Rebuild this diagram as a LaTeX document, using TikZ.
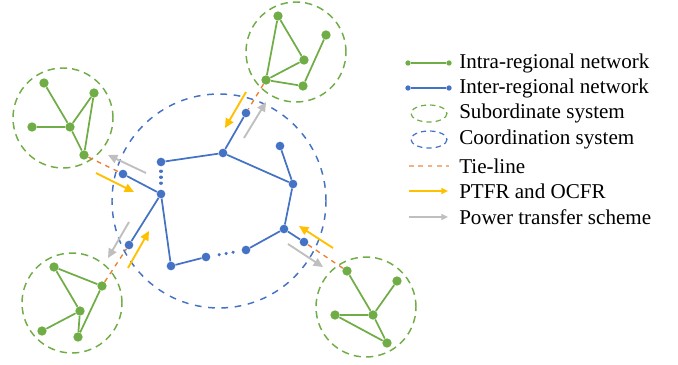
\documentclass[tikz,border=0pt]{standalone}
\usepackage{fontspec}
\setmainfont{Liberation Serif}
\usepackage{xcolor}
\usetikzlibrary{arrows.meta,positioning,calc}

\definecolor{subgreen}{HTML}{70AD47}
\definecolor{coordblue}{HTML}{4472C4}
\definecolor{tieorange}{HTML}{ED7D31}
\definecolor{flowyellow}{HTML}{FFC000}
\definecolor{schemegray}{HTML}{BFBFBF}

\begin{document}
\begin{tikzpicture}[x=0.75pt, y=-0.75pt,
    gnode/.style={circle, fill=subgreen, inner sep=0pt, minimum size=7pt},
    bnode/.style={circle, fill=coordblue, inner sep=0pt, minimum size=6.5pt},
    gline/.style={draw=subgreen, line width=1.3pt},
    bline/.style={draw=coordblue, line width=1.3pt},
    bdots/.style={draw=coordblue, line width=2.4pt, line cap=round},
    tie/.style={draw=tieorange, line width=1pt, dash pattern=on 3.5pt off 3.5pt},
    subsys/.style={circle, draw=subgreen, line width=1.1pt, dash pattern=on 5.5pt off 3.8pt, inner sep=0pt, minimum size=75pt},
    coordsys/.style={circle, draw=coordblue, line width=1.1pt, dash pattern=on 5pt off 5pt, inner sep=0pt, minimum size=160.5pt},
    ptfr/.style={draw=flowyellow, line width=1.4pt, -{Triangle[length=7pt,width=6.5pt]}},
    scheme/.style={draw=schemegray, line width=1.4pt, -{Triangle[length=7pt,width=6.5pt]}},
    legtext/.style={anchor=west, inner sep=0pt, font=\fontsize{15.8}{18}\selectfont}
]
    \useasboundingbox (0,0) rectangle (678,364);

    % Coordination system and subordinate systems
    \node[coordsys] (coord) at (219,201) {};
    \node[subsys] (sub1) at (63,118) {};
    \node[subsys] (sub2) at (296,52) {};
    \node[subsys] (sub3) at (72,303) {};
    \node[subsys] (sub4) at (366,307) {};

    % Subordinate system 1
    \node[gnode] (s1a) at (44,83) {};
    \node[gnode] (s1b) at (94,93) {};
    \node[gnode] (s1c) at (32,127) {};
    \node[gnode] (s1d) at (70,127) {};
    \node[gnode] (s1e) at (84,155) {};
    \draw[gline] (s1a) -- (s1d) (s1b) -- (s1d) (s1c) -- (s1d) (s1d) -- (s1e) (s1b) -- (s1e);

    % Subordinate system 2
    \node[gnode] (s2a) at (278,16) {};
    \node[gnode] (s2b) at (326,35) {};
    \node[gnode] (s2c) at (304,60) {};
    \node[gnode] (s2d) at (266,80) {};
    \node[gnode] (s2e) at (303,86) {};
    \draw[gline] (s2a) -- (s2c) (s2a) -- (s2d) (s2d) -- (s2c) (s2d) -- (s2e) (s2e) -- (s2b);

    % Subordinate system 3
    \node[gnode] (s3a) at (54,267) {};
    \node[gnode] (s3b) at (102,286) {};
    \node[gnode] (s3c) at (80,311) {};
    \node[gnode] (s3d) at (42,331) {};
    \node[gnode] (s3e) at (78,337) {};
    \draw[gline] (s3a) -- (s3b) (s3a) -- (s3c) (s3d) -- (s3c) (s3c) -- (s3e) (s3b) -- (s3e);

    % Subordinate system 4
    \node[gnode] (s4a) at (347,271) {};
    \node[gnode] (s4b) at (397,281) {};
    \node[gnode] (s4c) at (335,315) {};
    \node[gnode] (s4d) at (373,315) {};
    \node[gnode] (s4e) at (387,343) {};
    \draw[gline] (s4a) -- (s4d) (s4b) -- (s4d) (s4c) -- (s4d) (s4d) -- (s4e) (s4c) -- (s4e);

    % Inter-regional network
    \node[bnode] (c1) at (161,162) {};
    \node[bnode] (c2) at (223,153) {};
    \node[bnode] (c3) at (280,146) {};
    \node[bnode] (c4) at (293,184) {};
    \node[bnode] (c5) at (284,229) {};
    \node[bnode] (c6) at (304,242) {};
    \node[bnode] (c7) at (246,250) {};
    \node[bnode] (c8) at (206,257) {};
    \node[bnode] (c9) at (171,266) {};
    \node[bnode] (c10) at (161,194) {};
    \node[bnode] (c11) at (123,174) {};
    \node[bnode] (c12) at (129,245) {};
    \node[bnode] (c13) at (246,113) {};
    \draw[bline] (c1) -- (c2) (c2) -- (c4) (c3) -- (c4) (c4) -- (c5) (c5) -- (c6) (c5) -- (c7)
        (c8) -- (c9) (c9) -- (c10) (c10) -- (c11) (c10) -- (c12) (c2) -- (c13);
    \draw[bdots, dash pattern=on 0.2pt off 4.3pt, shorten <=3.4pt, shorten >=4.6pt] (c1) -- (c10);
    \draw[bdots, dash pattern=on 0.2pt off 5.1pt, shorten <=6.5pt, shorten >=6.2pt] (c8) -- (c7);

    % Tie-lines
    \draw[tie] (s1e) -- (c11);
    \draw[tie] (s2d) -- (c13);
    \draw[tie] (s3b) -- (c12);
    \draw[tie] (s4a) -- (c6);

    % PTFR/OCFR and power transfer schemes
    \coordinate (f1a) at (96,173);  \coordinate (f1b) at (134,192);
    \coordinate (p1a) at (146,173); \coordinate (p1b) at (108,155);
    \coordinate (f2a) at (246,92);  \coordinate (f2b) at (225,128);
    \coordinate (p2a) at (244,138); \coordinate (p2b) at (266,102);
    \coordinate (f3a) at (128,268); \coordinate (f3b) at (149,231);
    \coordinate (p3a) at (129,222); \coordinate (p3b) at (108,258);
    \coordinate (f4a) at (333,248); \coordinate (f4b) at (299,226);
    \coordinate (p4a) at (288,244); \coordinate (p4b) at (323,267);
    \draw[ptfr] (f1a) -- (f1b);
    \draw[ptfr] (f2a) -- (f2b);
    \draw[ptfr] (f3a) -- (f3b);
    \draw[ptfr] (f4a) -- (f4b);
    \draw[scheme] (p1a) -- (p1b);
    \draw[scheme] (p2a) -- (p2b);
    \draw[scheme] (p3a) -- (p3b);
    \draw[scheme] (p4a) -- (p4b);

    % Legend
    \node[legtext] (leg-intra) at (459,63) {Intra-regional network};
    \node[legtext] (leg-inter) at (459,88) {Inter-regional network};
    \node[legtext] (leg-sub) at (459,113) {Subordinate system};
    \node[legtext] (leg-coord) at (459,139) {Coordination system};
    \node[legtext] (leg-tie) at (459,166) {Tie-line};
    \node[legtext] (leg-ptfr) at (459,191) {PTFR and OCFR};
    \node[legtext] (leg-scheme) at (459,217) {Power transfer scheme};

    \node[gnode, minimum size=4pt] (lg1) at (408,63) {};
    \node[gnode, minimum size=4pt] (lg2) at (449,63) {};
    \draw[gline] (lg1) -- (lg2);
    \node[bnode, minimum size=4pt] (lb1) at (408,88) {};
    \node[bnode, minimum size=4pt] (lb2) at (449,88) {};
    \draw[bline] (lb1) -- (lb2);
    \draw[subgreen, line width=0.9pt, dash pattern=on 4pt off 3pt] (429,113.5) ellipse (18 and 8.5);
    \draw[coordblue, line width=0.9pt, dash pattern=on 4pt off 3pt] (429,139.5) ellipse (18 and 8.5);
    \coordinate (lt1) at (409,166); \coordinate (lt2) at (449,166);
    \draw[tie, draw=tieorange!60] (lt1) -- (lt2);
    \coordinate (lf1) at (409,191); \coordinate (lf2) at (448,191);
    \draw[ptfr, line width=1.1pt, -{Triangle[length=5pt,width=4.5pt]}] (lf1) -- (lf2);
    \coordinate (lp1) at (409,217); \coordinate (lp2) at (448,217);
    \draw[scheme, line width=1.1pt, -{Triangle[length=5pt,width=4.5pt]}] (lp1) -- (lp2);
\end{tikzpicture}
\end{document}
